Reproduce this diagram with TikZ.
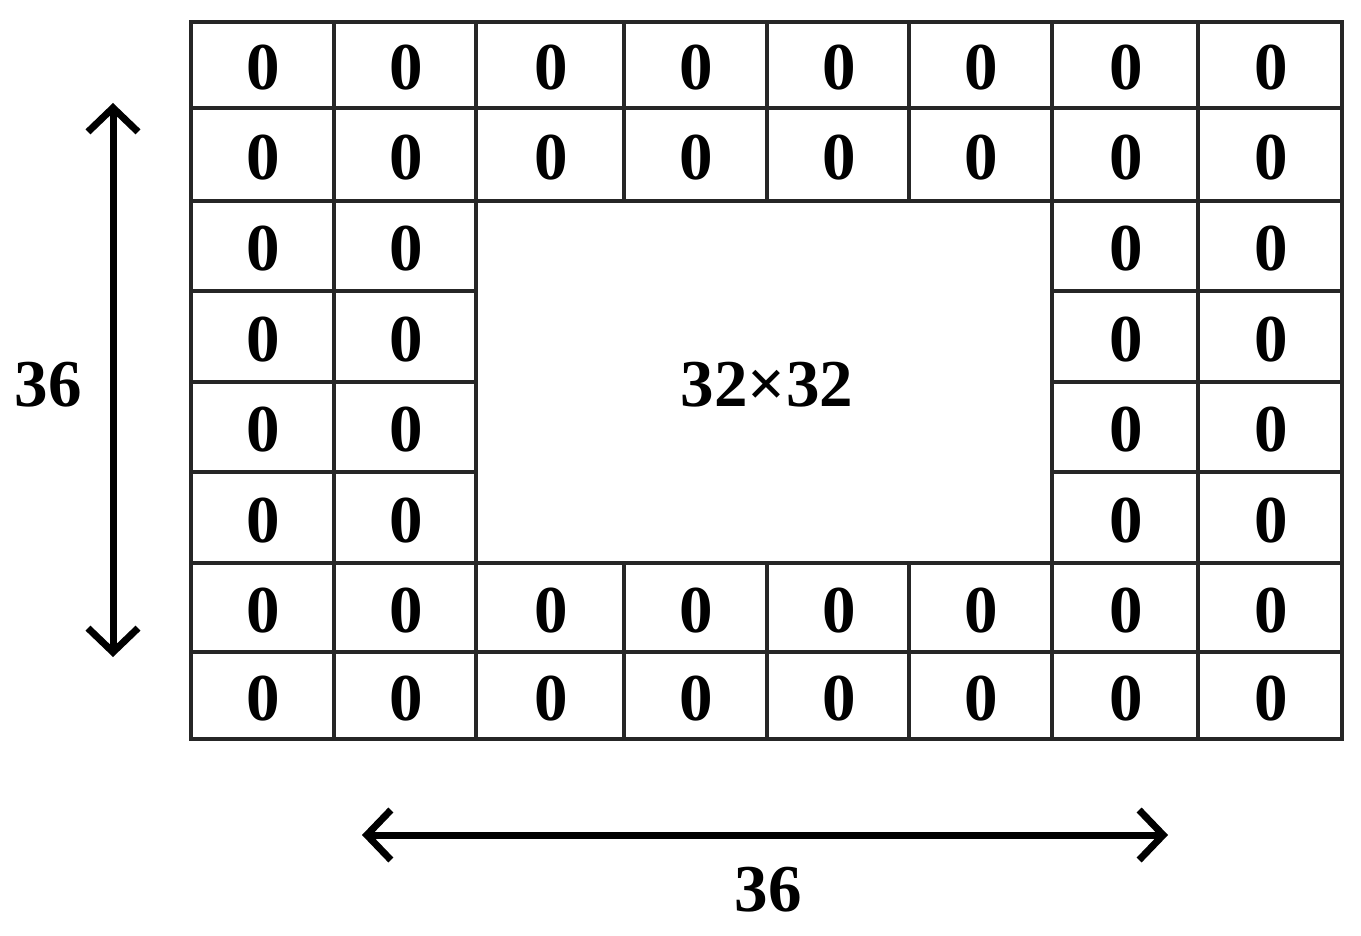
\documentclass[tikz,border=0pt]{standalone}
\usepackage{fontspec}
\setmainfont{Liberation Serif}
\usetikzlibrary{arrows.meta}
\begin{document}
\begin{tikzpicture}[x=1pt,y=-1pt,
  gridline/.style={line width=3.2pt,draw=black!85},
  zero/.style={font=\fontsize{67}{69}\selectfont\bfseries,inner sep=0pt},
  biglabel/.style={font=\fontsize{67}{69}\selectfont\bfseries,inner sep=0pt},
  dimarrow/.style={line width=7pt,{Straight Barb[length=24pt,width=50pt]}-{Straight Barb[length=24pt,width=50pt]}}]
\useasboundingbox (0,0) rectangle (1361,936);
\def\xs{{191,334,476,624,767,909,1052,1198,1342}}
\def\ys{{22,108,201,291,382,472,563,652,739}}
\foreach \i in {0,...,7}{
  \foreach \j in {0,...,7}{
    \pgfmathtruncatemacro\inner{and(and(\i>1,\i<6),and(\j>1,\j<6))}
    \ifnum\inner=0
      \pgfmathsetmacro\xa{\xs[\i]}
      \pgfmathsetmacro\xb{\xs[\i+1]}
      \pgfmathsetmacro\ya{\ys[\j]}
      \pgfmathsetmacro\yb{\ys[\j+1]}
      \draw[gridline] (\xa,\ya) rectangle (\xb,\yb);
      \node[zero] (z-\i-\j) at ({(\xa+\xb)/2+1},{(\ya+\yb)/2+3}) {0};
    \fi
  }
}
\node[biglabel] (core) at (767,385) {32×32};
\coordinate (vt) at (113,103);
\coordinate (vb) at (113,657);
\draw[dimarrow] (vt) -- (vb);
\node[biglabel] (vlab) at (48,385) {36};
\coordinate (hl) at (362,835);
\coordinate (hr) at (1168,835);
\draw[dimarrow] (hl) -- (hr);
\node[biglabel] (hlab) at (768,890) {36};
\end{tikzpicture}
\end{document}
